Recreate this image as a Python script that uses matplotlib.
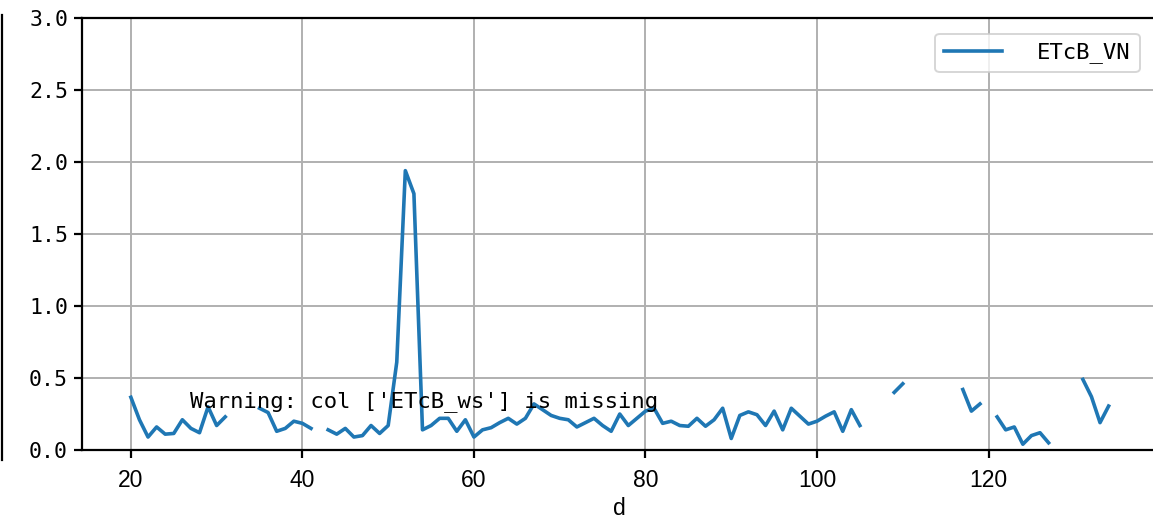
import numpy as np
import matplotlib
matplotlib.use('Agg')
import matplotlib.pyplot as plt
from matplotlib.lines import Line2D

nan = np.nan

# day of year
days = list(range(20, 135))

# ETcB_VN values, gaps where data missing
etcb_vn = [
    0.366, 0.21, 0.09, 0.16, 0.11, 0.115, 0.21, 0.15, 0.12, 0.30,   # 20-29
    0.17, 0.23, nan, nan, nan, 0.29, 0.26, 0.13, 0.15, 0.20,        # 30-39
    0.185, 0.15, nan, 0.14, 0.11, 0.15, 0.09, 0.10, 0.17, 0.115,    # 40-49
    0.17, 0.61, 1.94, 1.78, 0.14, 0.17, 0.22, 0.22, 0.13, 0.21,     # 50-59
    0.09, 0.14, 0.155, 0.19, 0.22, 0.18, 0.22, 0.32, 0.28, 0.24,    # 60-69
    0.22, 0.21, 0.16, 0.19, 0.22, 0.17, 0.13, 0.25, 0.17, 0.22,     # 70-79
    0.27, 0.29, 0.185, 0.20, 0.17, 0.165, 0.22, 0.165, 0.21, 0.29,  # 80-89
    0.08, 0.24, 0.265, 0.245, 0.17, 0.27, 0.14, 0.29, 0.235, 0.18,  # 90-99
    0.20, 0.235, 0.265, 0.13, 0.28, 0.17, nan, nan, nan, 0.40,      # 100-109
    0.46, nan, nan, nan, nan, nan, nan, 0.42, 0.27, 0.32,           # 110-119
    nan, 0.23, 0.14, 0.16, 0.04, 0.10, 0.12, 0.05, nan, nan,        # 120-129
    nan, 0.49, 0.37, 0.19, 0.305,                                   # 130-134
]

series_label = 'ETcB_VN'
warning_text = "Warning: col ['ETcB_ws'] is missing"
mono = 'DejaVu Sans Mono'
sans = 'Liberation Sans'

fig = plt.figure(figsize=(11.53, 5.2), dpi=100)
ax = fig.add_axes([82 / 1153, 70 / 520, 1075.5 / 1153, 432 / 520])

ax.plot(days, etcb_vn, color='#1f77b4', lw=2.6, label=series_label)
ax.set_ylim(0, 3.0)
ax.set_yticks([0, 0.5, 1.0, 1.5, 2.0, 2.5, 3.0])
ax.grid(True, color='#b0b0b0', lw=1.4)
ax.set_axisbelow(True)

for s in ax.spines.values():
    s.set_linewidth(1.6)
ax.tick_params(axis='both', length=6, width=1.6)
ax.tick_params(axis='y', labelsize=15.5, labelfontfamily=mono, pad=4)
ax.tick_params(axis='x', labelsize=16.5, labelfontfamily=sans, pad=8)
ax.set_xlabel('d', family=sans, fontsize=16.5, labelpad=3)

ax.text(0.1, 0.1, warning_text, transform=ax.transAxes,
        family=mono, fontsize=16)

leg = ax.legend(loc='upper right', prop={'family': mono, 'size': 16},
                handlelength=2.6, handletextpad=1.6, borderaxespad=0.7,
                bbox_to_anchor=(0.998, 1.0))
leg.get_frame().set_linewidth(1.4)

# stray vertical line at left edge
fig.add_artist(Line2D([2 / 1153, 2 / 1153], [60 / 520, 505 / 520],
                      color='black', lw=1.6))

fig.savefig('out.png', dpi=100)
